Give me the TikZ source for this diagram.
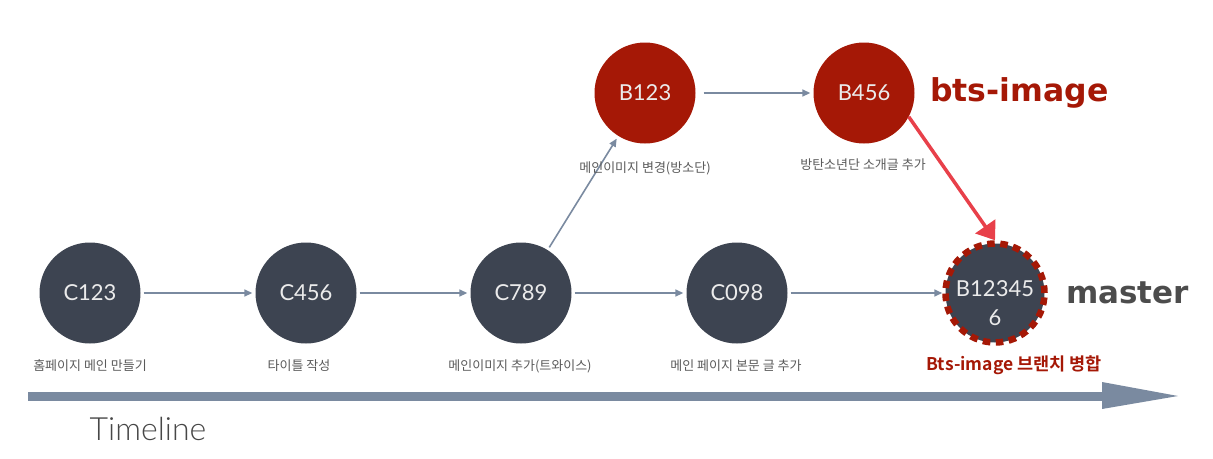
\documentclass[tikz,border=0pt]{standalone}
\usepackage{fontspec}
\setmainfont{Lato}
\newfontfamily\lightfont{Lato Light}
\newfontfamily\kr{Noto Sans CJK KR}
\newfontfamily\krb{Noto Sans CJK KR Bold}
\newfontfamily\dvb{DejaVu Sans Bold}
\usetikzlibrary{arrows.meta}
\definecolor{nodedark}{HTML}{3D4451}
\definecolor{nodered}{HTML}{A51806}
\definecolor{arrowgray}{HTML}{7A8AA0}
\definecolor{mergered}{HTML}{E8404A}
\definecolor{labelgray}{HTML}{5A5A5A}
\begin{document}
\begin{tikzpicture}[x=1pt,y=-1pt,
  commit/.style={circle,fill=nodedark,minimum size=101pt,inner sep=0pt,text=white!92!black,font=\fontsize{22}{29}\selectfont,align=center},
  bcommit/.style={commit,fill=nodered},
  mergecommit/.style={commit,minimum size=99pt,draw=nodered,line width=6.5pt,dash pattern=on 7.5pt off 5.5pt},
  conn/.style={draw=arrowgray,line width=1.6pt,-{Triangle[length=8pt,width=7pt]},shorten <=3pt,shorten >=3pt},
  redconn/.style={draw=mergered,line width=3.5pt,-{Triangle[length=17pt,width=24pt]}},
  msg/.style={text=labelgray,font=\kr\fontsize{13}{15}\selectfont,inner sep=0pt},
]
\useasboundingbox (0,0) rectangle (1213,458);
% commits
\node[commit] (c123) at (90,293) {C123};
\node[commit] (c456) at (306,293) {C456};
\node[commit] (c789) at (521,293) {C789};
\node[commit] (c098) at (737,293) {C098};
\node[mergecommit] (merge) at (995,293) {\raisebox{-32pt}[0pt][0pt]{\begin{tabular}[b]{@{}c@{}}B12345\\6\end{tabular}}};
\node[bcommit] (b123) at (645,93) {B123};
\node[bcommit] (b456) at (864,93) {B456};
% connectors
\draw[conn] (c123) -- (c456);
\draw[conn] (c456) -- (c789);
\draw[conn] (c789) -- (c098);
\draw[conn,shorten >=0pt] (c098) -- (merge);
\draw[conn] (c789) -- (b123);
\draw[conn,shorten <=8pt] (b123) -- (b456);
\draw[redconn] (b456.-28) -- (merge.north);
% messages
\node[msg] (m1) at (90,366) {홈페이지 메인 만들기};
\node[msg] (m2) at (299,366) {타이틀 작성};
\node[msg] (m3) at (520,366) {메인이미지 추가(트와이스)};
\node[msg] (m4) at (736,366) {메인 페이지 본문 글 추가};
\node[msg] (m5) at (645,168) {메인이미지 변경(방소단)};
\node[msg] (m6) at (863,165) {방탄소년단 소개글 추가};
\node[text=nodered,font=\krb\fontsize{17.5}{19}\selectfont,inner sep=0pt] (m7) at (1014,365) {Bts-image 브랜치 병합};
% branch names
\node[text=nodered,font=\dvb\fontsize{31.5}{34}\selectfont,inner sep=0pt,anchor=west] (bts) at (930,93) {bts-image};
\node[text=labelgray!85!black,font=\dvb\fontsize{31}{34}\selectfont,inner sep=0pt,anchor=west] (master) at (1066,293) {master};
% timeline
\coordinate (tl0) at (28,396);
\coordinate (tl1) at (1103,396);
\draw[arrowgray,line width=9pt] (tl0) -- (tl1);
\fill[arrowgray] (1102,382) -- (1178,396) -- (1102,409) -- cycle;
\node[text=black!72,font=\lightfont\fontsize{32}{34}\selectfont] (tl) at (148,429) {Timeline};
\end{tikzpicture}
\end{document}
